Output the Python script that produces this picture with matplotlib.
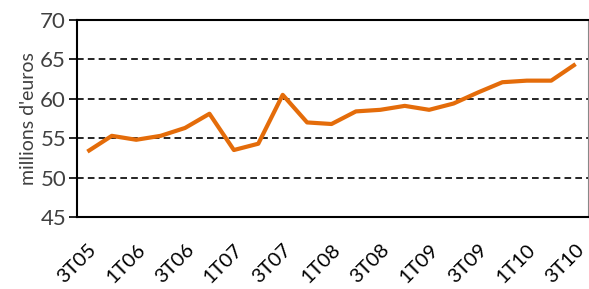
import matplotlib
matplotlib.use("Agg")
import matplotlib.pyplot as plt

quarters = ["3T05", "4T05", "1T06", "2T06", "3T06", "4T06", "1T07", "2T07", "3T07", "4T07",
            "1T08", "2T08", "3T08", "4T08", "1T09", "2T09", "3T09", "4T09", "1T10", "2T10", "3T10"]
values = [53.3, 55.3, 54.8, 55.3, 56.3, 58.1, 53.5, 54.3, 60.5, 57.0,
          56.8, 58.4, 58.6, 59.1, 58.6, 59.4, 60.8, 62.1, 62.3, 62.3, 64.4]
tick_labels = quarters[::2]
y_ticks = [45, 50, 55, 60, 65, 70]

plt.rcParams['font.family'] = ['Lato', 'DejaVu Sans']
fig = plt.figure(figsize=(5.89, 2.89), dpi=100)
ax = fig.add_axes([0.131, 0.249, 0.867, 0.682])

x = list(range(len(values)))
ax.plot(x, values, color='#E46C0A', lw=3.0, solid_capstyle='butt', zorder=3)

ax.set_ylim(45, 70)
ax.set_xlim(-0.42, 20.5)
ax.set_yticks(y_ticks)
ax.set_yticklabels([str(v) for v in y_ticks], fontsize=16, color='#404040')
for v in [50, 55, 60, 65]:
    ax.axhline(v, color='black', lw=1.2, ls=(0, (4, 2.5)), zorder=1)

ax.set_xticks(x[::2])
ax.set_xticklabels(tick_labels, rotation=45, ha='right', rotation_mode='anchor',
                   fontsize=14.5, color='black')
ax.tick_params(axis='x', length=0, pad=17)
ax.tick_params(axis='y', length=6, width=1.2, direction='out', pad=2)

for s in ['left', 'bottom', 'top']:
    ax.spines[s].set_color('black')
    ax.spines[s].set_linewidth(1.5)
ax.spines['right'].set_color('#888888')
ax.spines['right'].set_linewidth(0.8)

ax.set_ylabel("millions d'euros", fontsize=14, color='#404040', labelpad=2)

fig.savefig('out.png', dpi=100)
